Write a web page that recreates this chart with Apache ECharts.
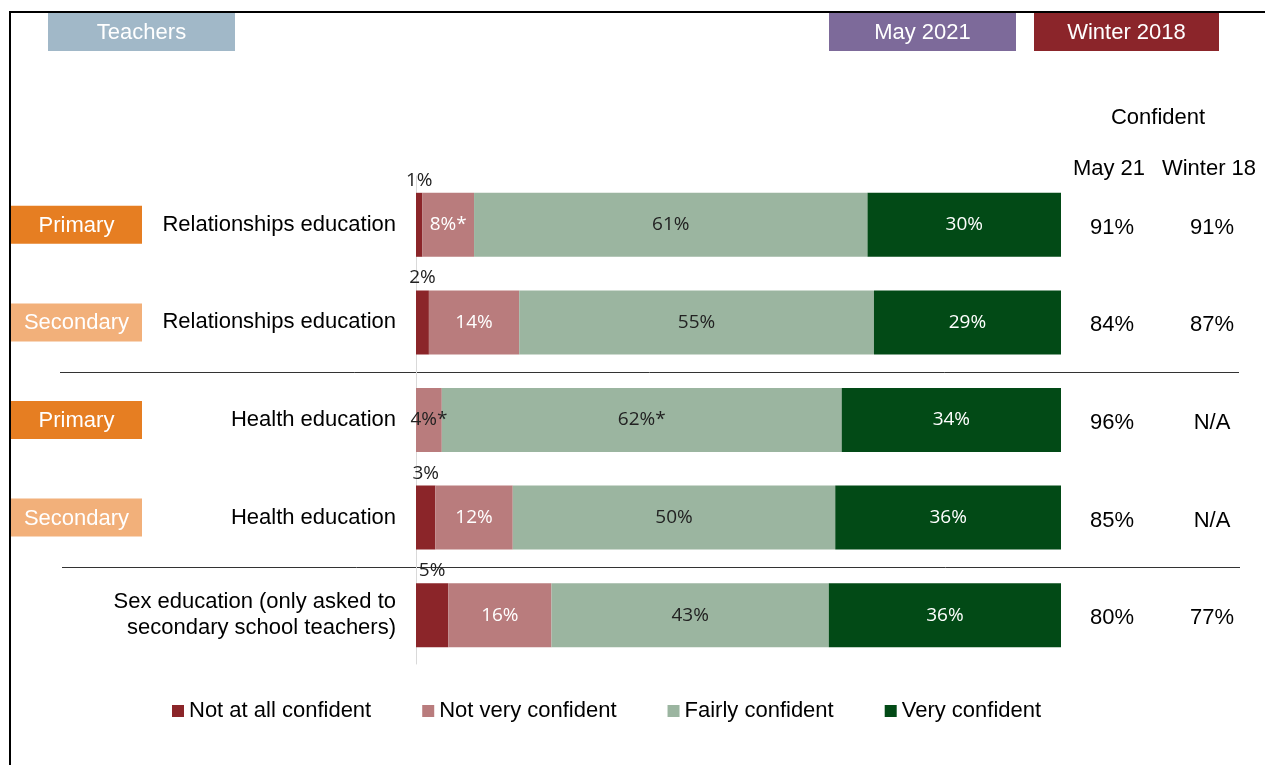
<!DOCTYPE html>
<html>
<head>
<meta charset="utf-8">
<script src="https://cdn.jsdelivr.net/npm/echarts@6/dist/echarts.min.js"></script>
<style>
  html, body { margin: 0; padding: 0; background: #fff; }
  #chart { width: 1265px; height: 765px; }
</style>
</head>
<body>
<div id="chart"></div>
<script>
// Survey rows, top to bottom
const categories = [
  'Relationships education',
  'Relationships education',
  'Health education',
  'Health education',
  'Sex education (only asked to\nsecondary school teachers)'
];
const phases = ['Primary', 'Secondary', 'Primary', 'Secondary', ''];

// Confidence shares (%)
const notAtAll = [1, 2, 0, 3, 5];
const notVery  = [8, 14, 4, 12, 16];
const fairly   = [61, 55, 62, 50, 43];
const very     = [30, 29, 34, 36, 36];

// Significance markers appended to value labels
const notVeryMarks = ['*', '', '*', '', ''];
const fairlyMarks  = ['', '', '*', '', ''];

// Net "confident" columns
const confMay21    = ['91%', '84%', '96%', '85%', '80%'];
const confWinter18 = ['91%', '87%', 'N/A', 'N/A', '77%'];

const seriesNames = ['Not at all confident', 'Not very confident', 'Fairly confident', 'Very confident'];

const ARIAL = '"Liberation Sans", Arial, sans-serif';
const BARFONT = '"Open Sans", sans-serif';
const colors = {
  notAtAll: '#8b2529',
  notVery: '#b97c7d',
  fairly: '#9bb5a0',
  very: '#024a16'
};
const phaseColors = { Primary: '#e67e22', Secondary: '#f2b07a' };

function barSeries(name, values, marks, color, labelColor, position) {
  return {
    name: name,
    type: 'bar',
    stack: 'total',
    barWidth: 64,
    itemStyle: { color: color },
    emphasis: { disabled: true },
    data: values.map(function (v) {
      // narrow segments get dark text since the label spills onto the next segment
      const c = (position === 'inside' && v < 6) ? '#222' : labelColor;
      return { value: v, label: { color: c } };
    }),
    label: {
      show: true,
      position: position,
      fontFamily: BARFONT,
      fontSize: 19,
      color: labelColor,
      distance: 3,
      formatter: function (p) {
        if (!p.value) return '';
        return p.value + '%' + (marks ? marks[p.dataIndex] : '');
      }
    }
  };
}

const chart = echarts.init(document.getElementById('chart'), null, { renderer: 'canvas' });

chart.setOption({
  animation: false,
  backgroundColor: '#fff',
  grid: { left: 416, right: 204, top: 176, bottom: 101, containLabel: false },
  xAxis: { type: 'value', min: 0, max: 100, show: false },
  yAxis: {
    type: 'category',
    inverse: true,
    data: categories,
    axisTick: { show: false },
    axisLine: { show: true, lineStyle: { color: '#d9d9d9', width: 1 } },
    splitLine: { show: false },
    axisLabel: {
      margin: 20,
      fontFamily: ARIAL,
      fontSize: 22,
      lineHeight: 26,
      color: '#000',
      align: 'right'
    }
  },
  legend: {
    data: seriesNames,
    left: 167,
    top: 695,
    icon: 'rect',
    itemWidth: 12,
    itemHeight: 12,
    itemGap: 51,
    selectedMode: false,
    textStyle: { fontFamily: ARIAL, fontSize: 22, color: '#000' }
  },
  series: [
    barSeries(seriesNames[0], notAtAll, null, colors.notAtAll, '#222', 'top'),
    barSeries(seriesNames[1], notVery, notVeryMarks, colors.notVery, '#fff', 'inside'),
    barSeries(seriesNames[2], fairly, fairlyMarks, colors.fairly, '#222', 'inside'),
    barSeries(seriesNames[3], very, null, colors.very, '#fff', 'inside')
  ]
});

// Decorations placed from the category axis positions
function rowY(i) {
  return chart.convertToPixel({ gridIndex: 0 }, [0, i])[1];
}

function box(x, y, w, h, fill, text) {
  return [
    { type: 'rect', shape: { x: x, y: y, width: w, height: h }, style: { fill: fill }, silent: true },
    {
      type: 'text', x: x + w / 2, y: y + h / 2 + 1, silent: true,
      style: {
        text: text, fill: '#fff', font: '22px ' + ARIAL,
        textAlign: 'center', textVerticalAlign: 'middle', align: 'center', verticalAlign: 'middle'
      }
    }
  ];
}

function label(x, y, text, align) {
  return {
    type: 'text', x: x, y: y, silent: true,
    style: {
      text: text, fill: '#000', font: '22px ' + ARIAL,
      textAlign: align || 'center', textVerticalAlign: 'middle',
      align: align || 'center', verticalAlign: 'middle'
    }
  };
}

let g = [];
// frame
g.push({ type: 'rect', shape: { x: 10, y: 12, width: 1400, height: 900 },
  style: { fill: 'none', stroke: '#000', lineWidth: 2 }, silent: true, z: 10 });
// header tags
g = g.concat(box(48, 13, 187, 38, '#a1b8c8', 'Teachers'));
g = g.concat(box(829, 13, 187, 38, '#7d6a9a', 'May 2021'));
g = g.concat(box(1034, 13, 185, 38, '#8b252a', 'Winter 2018'));
// column headings
g.push(label(1158, 118, 'Confident'));
g.push(label(1109, 169, 'May 21'));
g.push(label(1209, 169, 'Winter 18'));

categories.forEach(function (c, i) {
  const y = rowY(i);
  if (phases[i]) {
    g = g.concat(box(11, y - 19, 131, 38, phaseColors[phases[i]], phases[i]));
  }
  g.push(label(1112, y + 3, confMay21[i]));
  g.push(label(1212, y + 3, confWinter18[i]));
});

// separators between school-subject groups
[[1, 60, 1239], [3, 62, 1240]].forEach(function (s) {
  const y = Math.round((rowY(s[0]) + rowY(s[0] + 1)) / 2) + 1.5;
  g.push({ type: 'line', shape: { x1: s[1], y1: y, x2: s[2], y2: y },
    style: { stroke: '#333', lineWidth: 1 }, silent: true });
});

chart.setOption({ graphic: g });
</script>
</body>
</html>
